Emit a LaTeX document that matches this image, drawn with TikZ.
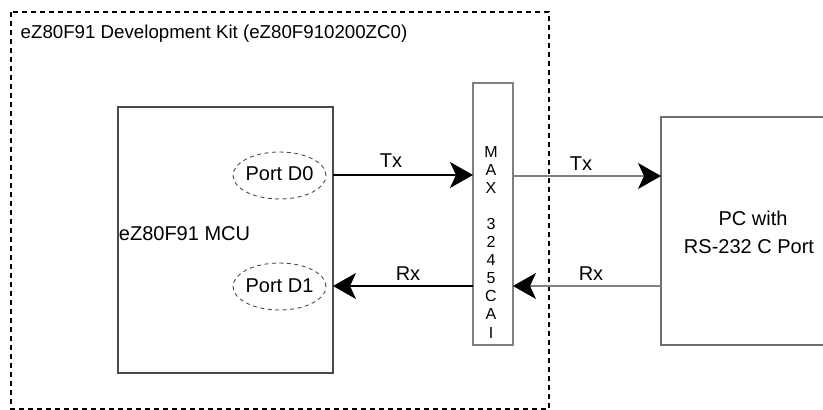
\documentclass[tikz,border=0pt]{standalone}
\usepackage{fontspec}
\setmainfont{Liberation Sans}
\usetikzlibrary{arrows.meta,shapes.geometric}
\definecolor{boxgray}{HTML}{4A4A4A}
\definecolor{linegray}{HTML}{808080}
\tikzset{
  lbl/.style={font=\fontsize{20}{24}\selectfont, inner sep=0pt, anchor=base},
  chip/.style={font=\fontsize{16}{18}\selectfont, inner sep=0pt, anchor=base},
  blk/.style={draw=boxgray, line width=1.3pt, inner sep=0pt, outer sep=0pt, anchor=north west},
  portell/.style={ellipse, draw=boxgray, dash pattern=on 4pt off 3.5pt, line width=0.9pt, minimum width=93pt, minimum height=47pt, inner sep=0pt},
  sig/.style={line width=1.1pt, -{Stealth[length=23pt,width=26pt,inset=6pt]}},
  sigg/.style={draw=linegray, line width=1.4pt, -{Stealth[length=23pt,width=26pt,inset=6pt,color=black,fill=black]}},
}
\begin{document}
\begin{tikzpicture}[x=1pt,y=-1pt]
\useasboundingbox (0,0) rectangle (823,410);
% kit frame
\draw[line width=1.4pt, dash pattern=on 5pt off 4pt] (11,12) rectangle (549,409);
\node[lbl, font=\fontsize{18.7}{22}\selectfont, anchor=base west] (kit) at (20.5,38.5) {eZ80F91 Development Kit (eZ80F910200ZC0)};
% MCU
\node[blk, minimum width=215pt, minimum height=266pt] (mcu) at (118,107) {};
\node[lbl] (mcut) at (184.5,240) {eZ80F91 MCU};
\node[portell] (pd0) at (279.5,175.5) {};
\node[lbl] (pd0t) at (279.5,180.5) {Port D0};
\node[portell] (pd1) at (279.5,286.5) {};
\node[lbl] (pd1t) at (279.5,292) {Port D1};
% MAX chip
\node[blk, draw=linegray, line width=1.6pt, minimum width=40pt, minimum height=262pt] (max) at (473,83) {};
\foreach \k/\c in {0/M,1/A,2/X,4/3,5/2,6/4,7/5,8/C,9/A,10/I}{
  \node[chip] (ch\k) at (491,157.5+18.05*\k) {\c};
}
% PC
\node[blk, draw=boxgray!80, minimum width=180pt, minimum height=228pt] (pc) at (661,117) {};
\node[lbl] (pct1) at (753,225) {PC with};
\node[lbl] (pct2) at (749,253) {RS-232 C Port};
% connections
\coordinate (txl) at (333,175);
\coordinate (rxl) at (333,286);
\draw[sig] (txl) -- (max.west |- txl);
\draw[sig] (max.west |- rxl) -- (rxl);
\draw[sigg] (max.east |- 0,176) -- (pc.west |- 0,176);
\draw[sigg] (pc.west |- 0,286) -- (max.east |- 0,286);
\node[lbl] (tx1) at (391,167) {Tx};
\node[lbl] (rx1) at (408,280) {Rx};
\node[lbl] (tx2) at (581,170) {Tx};
\node[lbl] (rx2) at (591,280) {Rx};
\end{tikzpicture}
\end{document}
